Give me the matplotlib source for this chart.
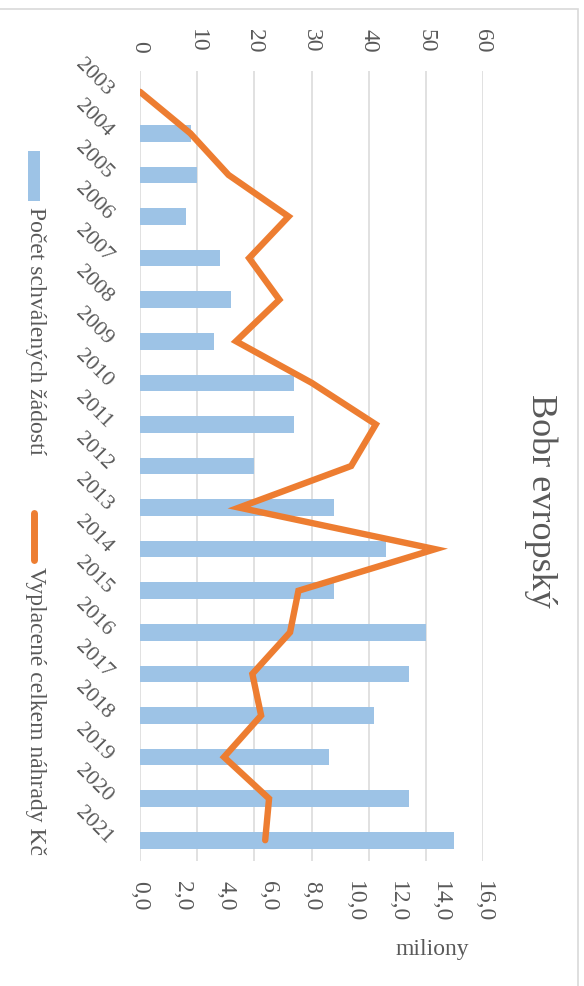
import matplotlib
matplotlib.use("Agg")
import matplotlib.pyplot as plt
from matplotlib.patches import Rectangle
from matplotlib.lines import Line2D
from matplotlib.ticker import FuncFormatter, MultipleLocator

years = ["2003", "2004", "2005", "2006", "2007", "2008", "2009", "2010", "2011", "2012",
         "2013", "2014", "2015", "2016", "2017", "2018", "2019", "2020", "2021"]
approved_requests = [0, 9, 10, 8, 14, 16, 13, 27, 27, 20,
                     34, 43, 34, 50, 47, 41, 33, 47, 55]
paid_millions = [0.0, 2.35, 4.13, 6.93, 5.09, 6.50, 4.48, 8.01, 11.0, 9.85,
                 4.62, 13.77, 7.39, 7.0, 5.24, 5.65, 3.92, 6.02, 5.84]

title = "Bobr evropský"
label_bars = "Počet schválených žádostí"
label_line = "Vyplacené celkem náhrady Kč"
secondary_axis_title = "miliony"

BLUE = "#9DC3E6"
ORANGE = "#ED7D31"
GRID = "#D9D9D9"
TXT = "#595959"
FONT = ["Liberation Serif", "DejaVu Serif"]

plt.rcParams["font.family"] = FONT

W, H = 584, 987
fig = plt.figure(figsize=(W / 100, H / 100), dpi=100)

def fx(px):
    return px / W

def fy(py):
    return 1 - py / H

# axes rect in pixels: x 140..483, y 72..862
ax = fig.add_axes([fx(140), fy(862), fx(483) - fx(140), fy(72) - fy(862)])
pos = list(range(len(years)))

ax.barh(pos, approved_requests, height=0.4, color=BLUE, zorder=2)
ax.set_xlim(0, 60)
ax.set_ylim(len(years) - 0.5, -0.5)
ax.xaxis.set_major_locator(MultipleLocator(10))
ax.grid(axis="x", color=GRID, linewidth=1.1, zorder=0)
ax.set_axisbelow(True)
for s in ax.spines.values():
    s.set_visible(False)
ax.set_yticks(pos)
ax.set_yticklabels(years)
ax.tick_params(axis="y", length=0, pad=22, labelsize=16, labelcolor=TXT)
for lbl in ax.get_yticklabels():
    lbl.set_rotation(-45)
    lbl.set_rotation_mode("anchor")
    lbl.set_ha("right")
    lbl.set_va("center")

ax2 = ax.twiny()
ax2.plot(paid_millions, pos, color=ORANGE, linewidth=4.6,
         solid_capstyle="round", solid_joinstyle="miter", zorder=3)
ax2.set_xlim(0, 16)
ax2.set_ylim(len(years) - 0.5, -0.5)
ax2.xaxis.set_major_locator(MultipleLocator(2))
ax2.xaxis.tick_bottom()
ax2.xaxis.set_label_position("bottom")
ax2.xaxis.set_major_formatter(FuncFormatter(lambda v, p: f"{v:.1f}".replace(".", ",")))
for s in ax2.spines.values():
    s.set_visible(False)
ax2.tick_params(axis="x", length=0, pad=14, labelsize=17, labelcolor=TXT, labelrotation=-90)

# primary (count) axis on top
ax.xaxis.tick_top()
ax.tick_params(axis="x", length=0, pad=14, labelsize=17, labelcolor=TXT, labelrotation=-90)

# secondary axis title (horizontal in the rotated chart)
fig.text(fx(432), fy(950), secondary_axis_title, fontsize=17, color=TXT,
         ha="center", va="center")

# chart title
fig.text(fx(541), fy(501), title, fontsize=26, color=TXT, rotation=-90,
         ha="center", va="center")

# legend (drawn rotated, like the chart)
fig.add_artist(Rectangle((fx(28), fy(202)), fx(40) - fx(28), fy(152) - fy(202),
                         transform=fig.transFigure, facecolor=BLUE, edgecolor="none"))
fig.text(fx(35), fy(207), label_bars, fontsize=17, color=TXT, rotation=-90,
         ha="center", va="top")
fig.add_artist(Line2D([fx(34), fx(34)], [fy(514), fy(561)], transform=fig.transFigure,
                      color=ORANGE, linewidth=5, solid_capstyle="round"))
fig.text(fx(35), fy(567), label_line, fontsize=17, color=TXT, rotation=-90,
         ha="center", va="top")

# chart area border (top and right visible)
fig.add_artist(Rectangle((fx(-10), fy(1000)), fx(578) - fx(-10), fy(10) - fy(1000),
                         transform=fig.transFigure, facecolor="none",
                         edgecolor=GRID, linewidth=1.2))

fig.savefig("out.png", dpi=100)
